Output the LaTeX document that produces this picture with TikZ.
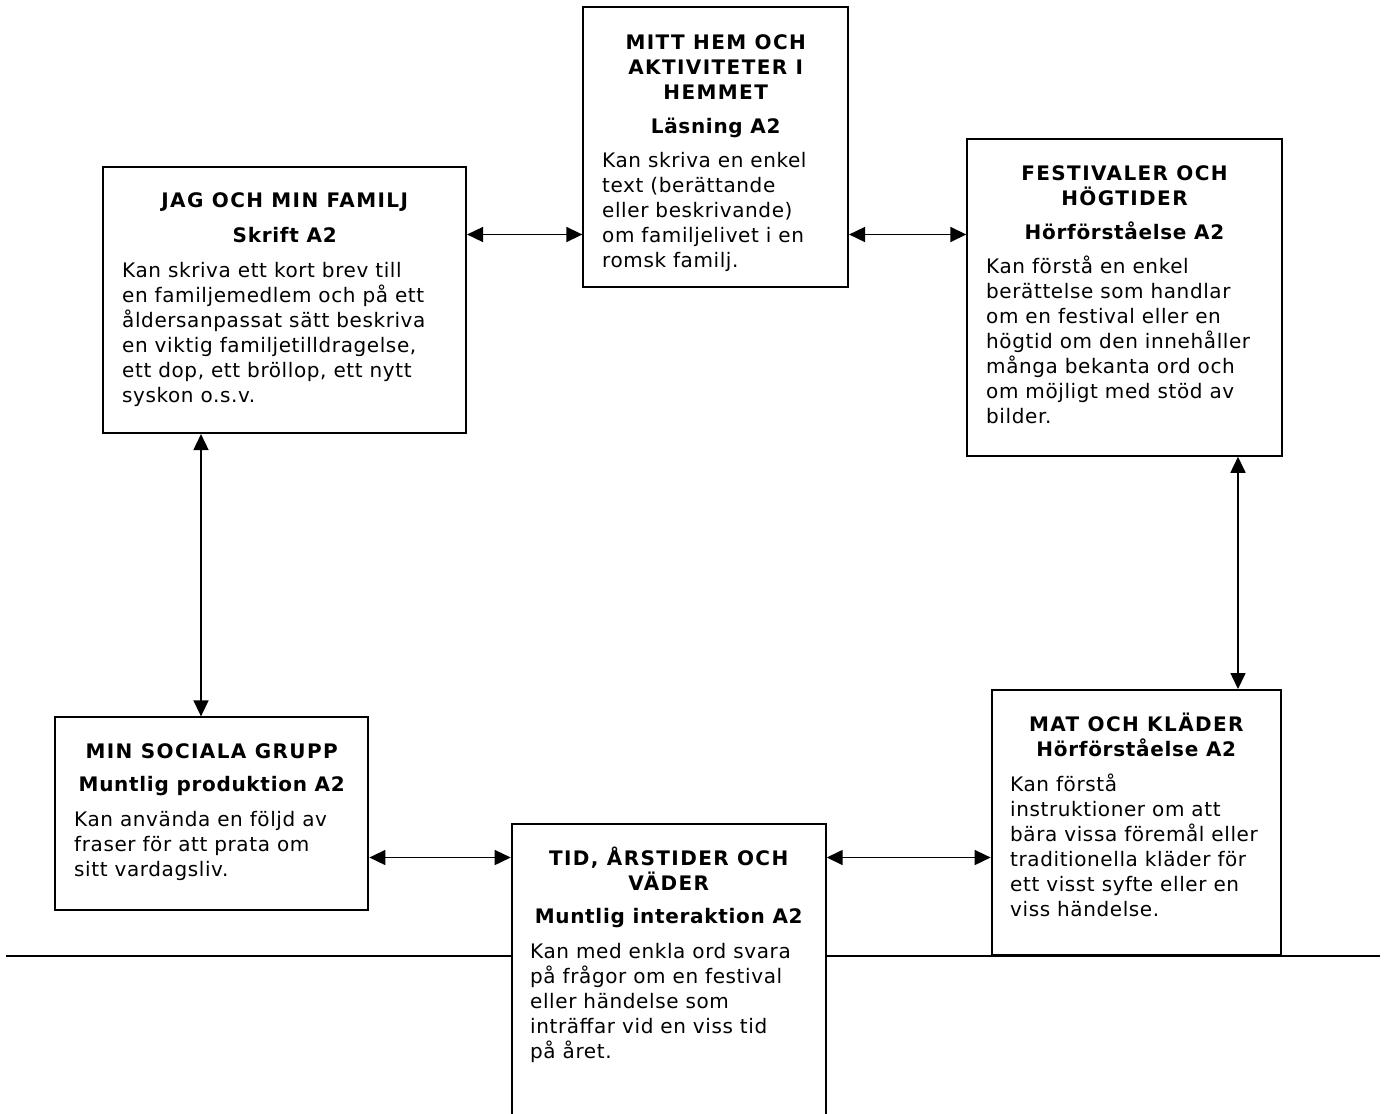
\documentclass[tikz,border=0pt]{standalone}
\usepackage{fontspec}
\setmainfont[LetterSpace=3,BoldFeatures={LetterSpace=3.5}]{DejaVu Sans}
\newfontfamily\capsfont[LetterSpace=7]{DejaVu Sans}
\usetikzlibrary{arrows.meta}
\newcommand\mycaps[1]{\parbox[t]{360pt}{\centering\capsfont\bfseries #1}}
\newcommand\mytitle[1]{\parbox[t]{360pt}{\centering\bfseries #1}}
\newcommand\mybody[1]{\parbox[t]{340pt}{\raggedright #1}}
\begin{document}
\begin{tikzpicture}[x=1pt,y=-1pt,
  every node/.style={font=\fontsize{20}{25}\selectfont, inner sep=0pt},
  boxnode/.style={draw, line width=2pt, fill=white, rectangle},
  arr/.style={line width=1.6pt, {Triangle[length=16pt,width=15pt]}-{Triangle[length=16pt,width=15pt]}},
  rule/.style={line width=1.6pt},
  ttlnode/.style={anchor=base},
  bodynode/.style={anchor=base west}
]
\useasboundingbox (0,0) rectangle (1388,1113);
\clip (0,0) rectangle (1388,1113);
\fill[white] (0,0) rectangle (1388,1113);

% horizontal rule
\coordinate (r1) at (6,956);
\coordinate (r2) at (1380,956);
\draw[rule] (r1) -- (r2);

% boxes
\node[boxnode, minimum width=362.7pt, minimum height=265.7pt] (A) at (284.7,300.2) {};
\node[boxnode, minimum width=264.7pt, minimum height=279.4pt] (B) at (715.7,147) {};
\node[boxnode, minimum width=314.4pt, minimum height=316.7pt] (C) at (1124.5,297.4) {};
\node[boxnode, minimum width=313.3pt, minimum height=192.7pt] (D) at (211.7,813.7) {};
\node[boxnode, minimum width=314pt, minimum height=315.7pt] (E) at (668.7,982.2) {};
\node[boxnode, minimum width=289.3pt, minimum height=265pt] (F) at (1136.3,822.5) {};

% texts A
\node[ttlnode] (At) at (284.7,207) {\mycaps{JAG OCH MIN FAMILJ}};
\node[ttlnode] (As) at (284.7,242) {\mytitle{Skrift A2}};
\node[bodynode] (Ab) at (122,277) {\mybody{Kan skriva ett kort brev till\\en familjemedlem och på ett\\åldersanpassat sätt beskriva\\en viktig familjetilldragelse,\\ett dop, ett bröllop, ett nytt\\syskon o.s.v.}};

% texts B
\node[ttlnode] (Bt) at (715.7,49.5) {\mycaps{MITT HEM OCH\\AKTIVITETER I\\HEMMET}};
\node[ttlnode] (Bs) at (715.7,133.3) {\mytitle{Läsning A2}};
\node[bodynode] (Bb) at (602,167.5) {\mybody{Kan skriva en enkel\\text (berättande\\eller beskrivande)\\om familjelivet i en\\romsk familj.}};

% texts C
\node[ttlnode] (Ct) at (1124.5,180) {\mycaps{FESTIVALER OCH\\HÖGTIDER}};
\node[ttlnode] (Cs) at (1124.5,239) {\mytitle{Hörförståelse A2}};
\node[bodynode] (Cb) at (986,273.5) {\mybody{Kan förstå en enkel\\berättelse som handlar\\om en festival eller en\\högtid om den innehåller\\många bekanta ord och\\om möjligt med stöd av\\bilder.}};

% texts D
\node[ttlnode] (Dt) at (211.7,758.3) {\mycaps{MIN SOCIALA GRUPP}};
\node[ttlnode] (Ds) at (211.7,791.7) {\mytitle{Muntlig produktion A2}};
\node[bodynode] (Db) at (74,826.7) {\mybody{Kan använda en följd av\\fraser för att prata om\\sitt vardagsliv.}};

% texts E
\node[ttlnode] (Et) at (668.7,865) {\mycaps{TID, ÅRSTIDER OCH\\VÄDER}};
\node[ttlnode] (Es) at (668.7,923.3) {\mytitle{Muntlig interaktion A2}};
\node[bodynode] (Eb) at (530,958.3) {\mybody{Kan med enkla ord svara\\på frågor om en festival\\eller händelse som\\inträffar vid en viss tid\\på året.}};

% texts F
\node[ttlnode] (Ft) at (1136.3,731) {\mycaps{MAT OCH KLÄDER}};
\node[ttlnode] (Fs) at (1136.3,756.7) {\mytitle{Hörförståelse A2}};
\node[bodynode] (Fb) at (1010,791) {\mybody{Kan förstå\\instruktioner om att\\bära vissa föremål eller\\traditionella kläder för\\ett visst syfte eller en\\viss händelse.}};

% connectors
\coordinate (yTop) at (0,234.5);
\coordinate (yBot) at (0,857.5);
\coordinate (xL) at (201,0);
\coordinate (xR) at (1238,0);
\draw[arr] (A.east |- yTop) -- (B.west |- yTop);
\draw[arr] (B.east |- yTop) -- (C.west |- yTop);
\draw[arr] (A.south -| xL) -- (D.north -| xL);
\draw[arr] (C.south -| xR) -- (F.north -| xR);
\draw[arr] (D.east |- yBot) -- (E.west |- yBot);
\draw[arr] (E.east |- yBot) -- (F.west |- yBot);
\end{tikzpicture}
\end{document}
